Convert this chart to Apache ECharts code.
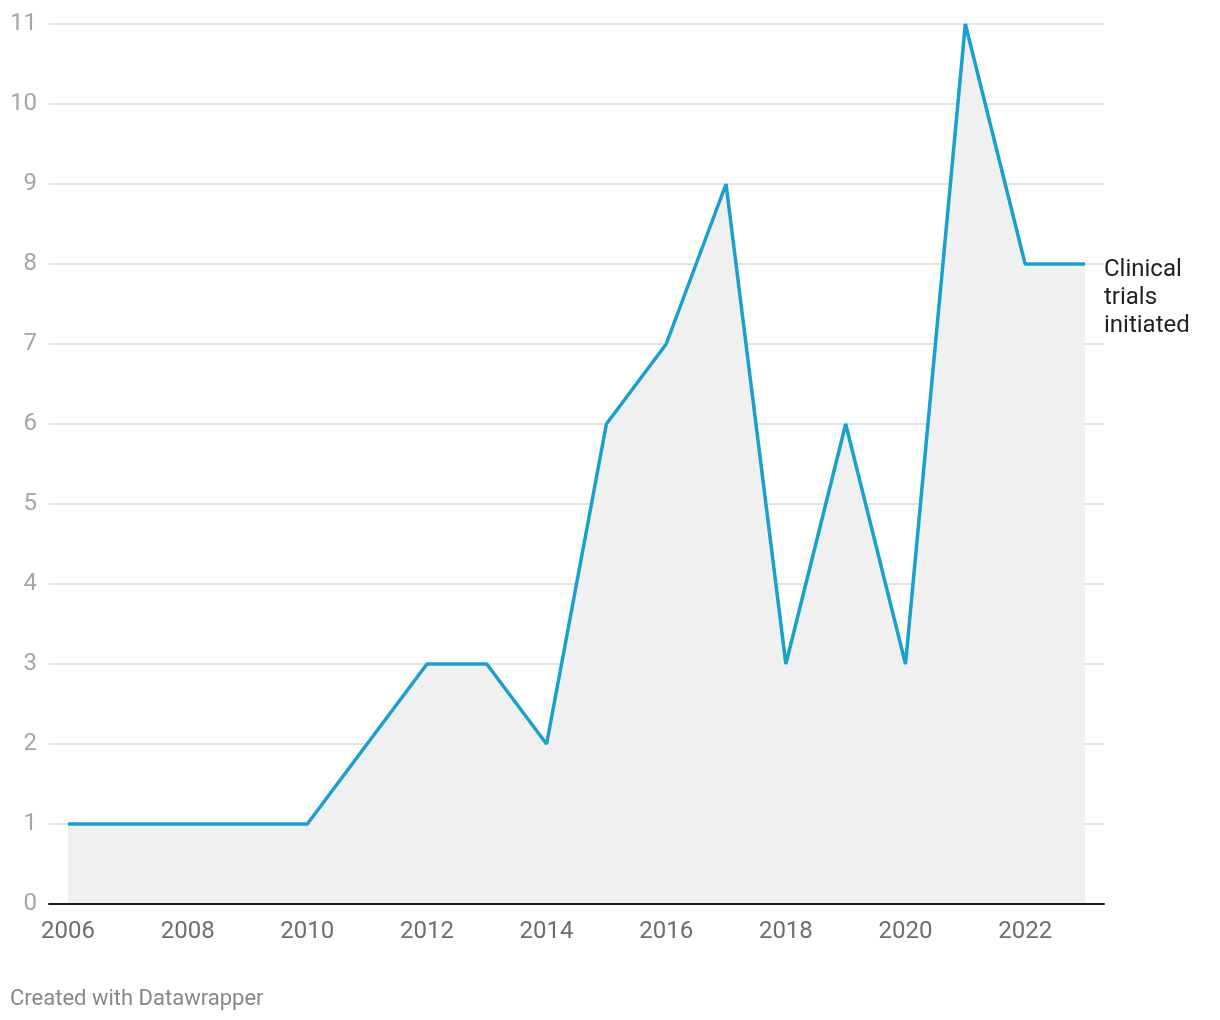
<!DOCTYPE html>
<html>
<head>
<meta charset="utf-8">
<script src="https://cdn.jsdelivr.net/npm/echarts@6/dist/echarts.min.js"></script>
<style>
html,body{margin:0;padding:0;background:#fff;}
#chart{width:1220px;height:1020px;}
</style>
</head>
<body>
<div id="chart"></div>
<script>
const years = [2006,2007,2008,2009,2010,2011,2012,2013,2014,2015,2016,2017,2018,2019,2020,2021,2022,2023];
const trials = [1,1,1,1,1,2,3,3,2,6,7,9,3,6,3,11,8,8];
const xTickLabels = [2006,2008,2010,2012,2014,2016,2018,2020,2022];
const seriesName = 'Clinical\ntrials\ninitiated';

const chart = echarts.init(document.getElementById('chart'));
chart.setOption({
  animation: false,
  textStyle: { fontFamily: 'Roboto' },
  grid: { left: 49, right: 116, top: 24, bottom: 116, containLabel: false },
  xAxis: {
    type: 'value',
    min: 2005.682,
    max: 2023.318,
    z: 10,
    splitLine: { show: false },
    axisLine: { show: true, lineStyle: { color: '#1d1d1d', width: 2 } },
    axisTick: { show: false },
    axisLabel: {
      customValues: xTickLabels,
      color: '#6e6e6e',
      fontSize: 24,
      margin: 16,
      formatter: v => String(v)
    }
  },
  yAxis: {
    type: 'value',
    min: 0,
    max: 11,
    interval: 1,
    axisLine: { show: false },
    axisTick: { show: false },
    splitLine: { lineStyle: { color: '#e3e3e3', width: 2 } },
    axisLabel: { color: '#a6a6a6', fontSize: 24, margin: 12, padding: [4, 0, 0, 0] }
  },
  series: [{
    type: 'line',
    data: years.map((y, i) => [y, trials[i]]),
    symbol: 'none',
    lineStyle: { color: '#18a1cd', width: 3.5 },
    areaStyle: { color: '#f0f0f0', opacity: 1 },
    z: 3,
    endLabel: {
      show: true,
      formatter: seriesName,
      color: '#222',
      fontSize: 24,
      lineHeight: 28,
      align: 'left',
      distance: 19,
      offset: [0, 34]
    }
  }],
  graphic: [{
    type: 'text',
    left: 10,
    top: 988,
    style: { text: 'Created with Datawrapper', fill: '#888', fontSize: 22, fontFamily: 'Roboto' }
  }]
});
</script>
</body>
</html>
